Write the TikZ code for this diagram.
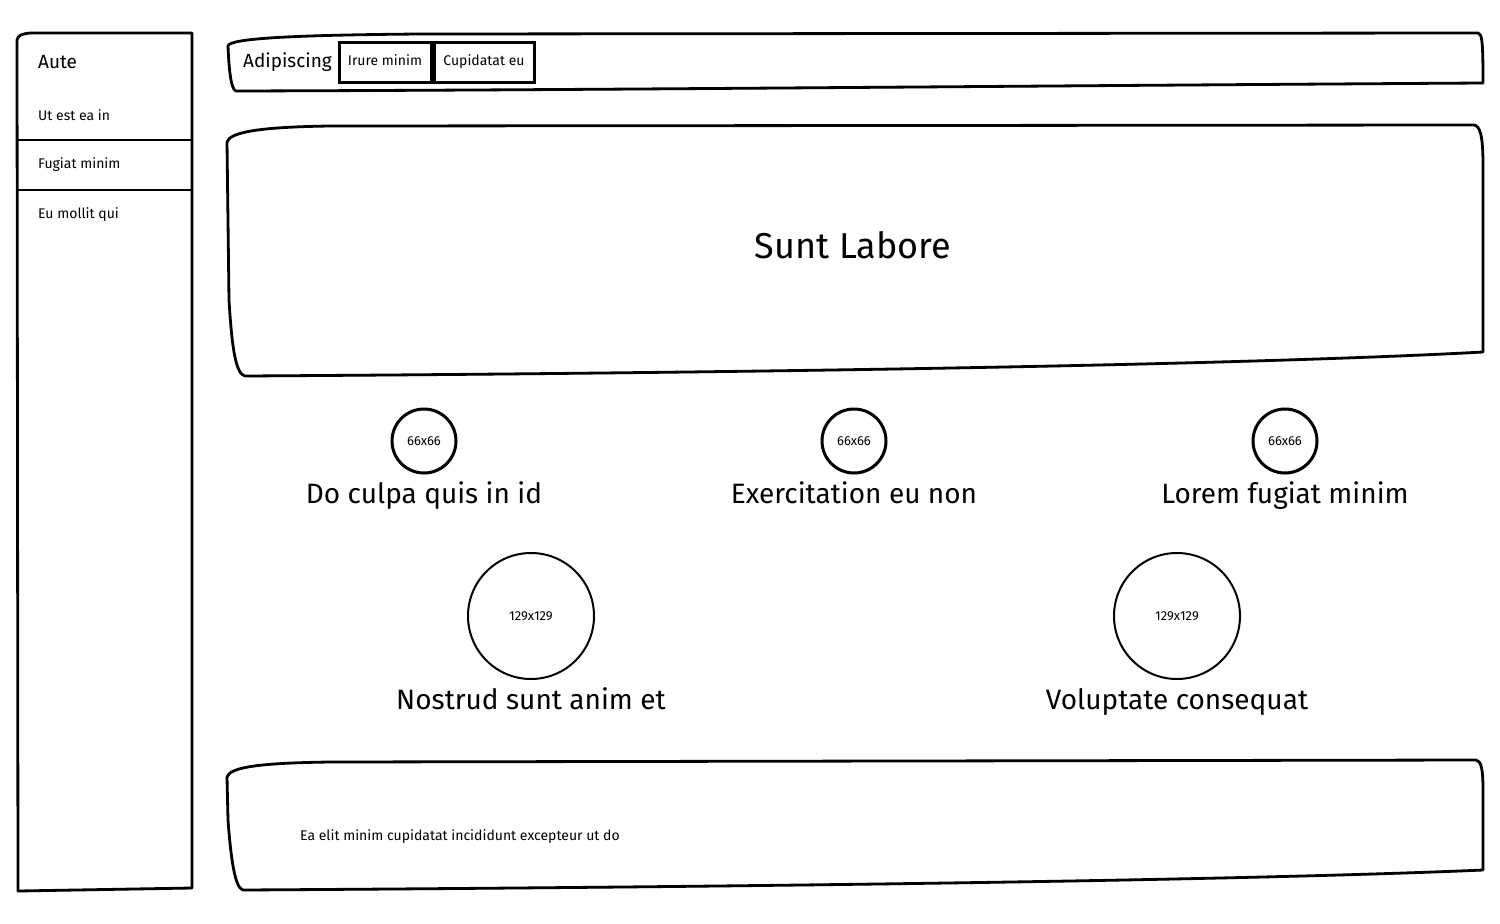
\documentclass[tikz,border=0pt]{standalone}
\usepackage{fontspec}
\setmainfont{Fira Sans}
\usetikzlibrary{shadows}
\newcommand{\fsz}[1]{\fontsize{#1}{#1}\selectfont}

\tikzset{
    panel/.style={draw=black, line width=2.8pt, fill=white, line join=round,
        drop shadow={opacity=0.25, shadow xshift=1pt, shadow yshift=-1.5pt}},
    tab/.style={draw=black, line width=3pt, fill=white, minimum height=40pt, inner xsep=0pt,
        text height=10pt, text depth=3pt,
        drop shadow={opacity=0.25, shadow xshift=1pt, shadow yshift=-1.5pt}},
    avatar/.style={circle, draw=black, line width=3pt, fill=white, minimum size=64pt, inner sep=0pt,
        drop shadow={opacity=0.25, shadow xshift=1pt, shadow yshift=-1.5pt}},
    photo/.style={circle, draw=black, line width=2pt, fill=white, minimum size=126pt, inner sep=0pt},
    label/.style={inner sep=0pt, anchor=west},
    caption/.style={inner sep=0pt, anchor=base}
}

\begin{document}
\begin{tikzpicture}[x=1pt, y=-1pt]
    \useasboundingbox (0,0) rectangle (1500,924);

    % side menu
    \draw[panel] (17,40) .. controls (18,35) and (22,34) .. (30,33) -- (192,33)
        -- (192,888) -- (18,891) -- cycle;
    \draw[line width=2.4pt] (17,140) -- (192,140);
    \draw[line width=2.4pt] (17,190) -- (192,190);
    \node[label] (aute) at (38,62) {\fsz{19}Aute};
    \node[label] (utest) at (38,115) {\fsz{14}Ut est ea in};
    \node[label] (fugiat) at (38,165) {\fsz{14}Fugiat minim};
    \node[label] (eumollit) at (38,215) {\fsz{14}Eu mollit qui};

    % top bar
    \draw[panel] (228,46) .. controls (229,38) and (300,35) .. (420,34) -- (1478,33)
        .. controls (1482,34) and (1483,40) .. (1483,83)
        .. controls (1000,86) and (600,90) .. (236,91)
        .. controls (231,90) and (229,70) .. cycle;
    \node[label] (adip) at (243,62) {\fsz{19}Adipiscing};
    \node[tab, anchor=west, minimum width=92pt] (irure) at (337.5,62) {\fsz{14}Irure minim};
    \node[tab, anchor=west, minimum width=100pt] (cupid) at (irure.east) {\fsz{14}Cupidatat eu};

    % hero
    \draw[panel] (227,142) .. controls (230,132) and (260,127) .. (330,126) -- (1474,125)
        .. controls (1480,126) and (1483,135) .. (1483,165) -- (1483,352)
        .. controls (1300,362) and (900,372) .. (245,376)
        .. controls (236,374) and (232,350) .. (229,300) -- cycle;
    \node (title) at (853,245) {\fsz{36}Sunt Labore};

    % small avatars
    \node[avatar] (av1) at (424,441) {\fsz{13}66x66};
    \node[avatar] (av2) at (854,441) {\fsz{13}66x66};
    \node[avatar] (av3) at (1285,441) {\fsz{13}66x66};
    \node[caption] (cap1) at (424,503) {\fsz{28}Do culpa quis in id};
    \node[caption] (cap2) at (854,503) {\fsz{28}Exercitation eu non};
    \node[caption] (cap3) at (1285,503) {\fsz{28}Lorem fugiat minim};

    % big photos
    \node[photo] (ph1) at (531,616) {\fsz{13}129x129};
    \node[photo] (ph2) at (1177,616) {\fsz{13}129x129};
    \node[caption] (cap4) at (531,709) {\fsz{28}Nostrud sunt anim et};
    \node[caption] (cap5) at (1177,709) {\fsz{28}Voluptate consequat};

    % footer
    \draw[panel] (227,777) .. controls (230,767) and (260,763) .. (330,762) -- (1476,760)
        .. controls (1481,761) and (1483,768) .. (1483,790) -- (1483,870)
        .. controls (1300,878) and (900,886) .. (243,890)
        .. controls (235,888) and (231,860) .. (228,820) -- cycle;
    \node[label] (foot) at (300,837) {\fsz{14}Ea elit minim cupidatat incididunt excepteur ut do};
\end{tikzpicture}
\end{document}
